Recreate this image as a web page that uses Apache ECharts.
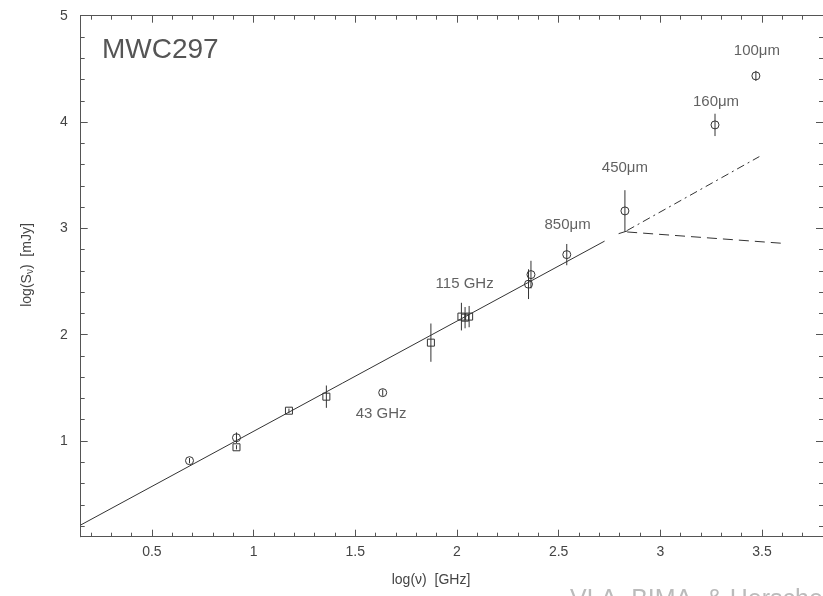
<!DOCTYPE html>
<html>
<head>
<meta charset="utf-8">
<script src="https://cdn.jsdelivr.net/npm/echarts@6/dist/echarts.min.js"></script>
<style>html,body{margin:0;padding:0;background:#fff;}#c{width:823px;height:596px;}</style>
</head>
<body>
<div id="c"></div>
<script>
// ---- axis ranges and ticks ----
const xRange = [0.15, 3.8];
const yRange = [0.1, 5];
const xMajor = [0.5, 1, 1.5, 2, 2.5, 3, 3.5];
const xMinor = [0.2, 0.3, 0.4, 0.6, 0.7, 0.8, 0.9, 1.1, 1.2, 1.3, 1.4, 1.6, 1.7, 1.8, 1.9, 2.1, 2.2, 2.3, 2.4, 2.6, 2.7, 2.8, 2.9, 3.1, 3.2, 3.3, 3.4, 3.6, 3.7];
const yMajor = [1, 2, 3, 4, 5];
const yMinor = [0.2, 0.4, 0.6, 0.8, 1.2, 1.4, 1.6, 1.8, 2.2, 2.4, 2.6, 2.8, 3.2, 3.4, 3.6, 3.8, 4.2, 4.4, 4.6, 4.8];

// ---- circle points (log nu, log S, error) ----
const circX   = [0.685, 0.916, 1.635, 2.352, 2.364, 2.54, 2.826, 3.269, 3.47];
const circY   = [0.815, 1.031, 1.455, 2.475, 2.565, 2.753, 3.164, 3.973, 4.434];
const circErr = [0.025, 0.05, 0.03, 0.14, 0.13, 0.1, 0.195, 0.105, 0.047];

// ---- square points ----
const sqX   = [0.916, 1.174, 1.358, 1.872, 2.022, 2.04, 2.06];
const sqY   = [0.941, 1.285, 1.417, 1.925, 2.17, 2.16, 2.17];
const sqErr = [0.02, 0.02, 0.105, 0.18, 0.13, 0.1, 0.1];

// ---- model lines ----
const fitLine = [[0.15, 0.21], [2.726, 2.88]];
const fitTail = [[2.795, 2.95], [2.837, 2.975]];
const dashLine = [[2.837, 2.966], [3.596, 2.86]];
const dashDotLine = [[2.837, 2.98], [3.487, 3.675]];

// ---- annotations ----
const noteText = ['100\u03bcm', '160\u03bcm', '450\u03bcm', '850\u03bcm', '115 GHz', '43 GHz'];
const noteX = [3.475, 3.274, 2.826, 2.544, 2.038, 1.627];
const noteY = [4.67, 4.19, 3.57, 3.03, 2.48, 1.26];

const FONT = '"Liberation Sans", "DejaVu Sans", sans-serif';
const AX = '#555';
const INK = '#333';

function zip3(a, b, c) { return a.map((v, i) => [v, b[i], c[i]]); }

function errRender(kind) {
  return function (params, api) {
    const x = api.value(0), y = api.value(1), e = api.value(2);
    const p = api.coord([x, y]);
    const t = api.coord([x, y + e]);
    const b = api.coord([x, y - e]);
    const st = { stroke: INK, lineWidth: 1, fill: null };
    const kids = [{ type: 'line', shape: { x1: t[0], y1: t[1], x2: b[0], y2: b[1] }, style: st }];
    if (kind === 'circle') {
      kids.push({ type: 'circle', shape: { cx: p[0], cy: p[1], r: 4 }, style: st });
    } else {
      kids.push({ type: 'rect', shape: { x: p[0] - 3.5, y: p[1] - 3.5, width: 7, height: 7 }, style: st });
    }
    return { type: 'group', children: kids };
  };
}

function xAx(pos, vals, len, label) {
  return {
    type: 'value', position: pos, min: xRange[0], max: xRange[1],
    axisLine: { show: true, onZero: false, lineStyle: { color: AX, width: 1 } },
    splitLine: { show: false },
    axisTick: { show: true, inside: true, length: len, customValues: vals, lineStyle: { color: AX } },
    axisLabel: label ? { show: true, customValues: vals, margin: 8, color: '#444', fontSize: 14, fontFamily: FONT } : { show: false }
  };
}
function yAx(pos, vals, len, label) {
  return {
    type: 'value', position: pos, min: yRange[0], max: yRange[1],
    axisLine: { show: true, onZero: false, lineStyle: { color: AX, width: 1 } },
    splitLine: { show: false },
    axisTick: { show: true, inside: true, length: len, customValues: vals, lineStyle: { color: AX } },
    axisLabel: label ? { show: true, customValues: vals, margin: 13, color: '#444', fontSize: 14, fontFamily: FONT } : { show: false }
  };
}

const chart = echarts.init(document.getElementById('c'), null, { renderer: 'canvas' });
chart.setOption({
  animation: false,
  backgroundColor: '#fff',
  grid: { left: 80.7, top: 15.7, width: 746, height: 521, containLabel: false },
  xAxis: [
    xAx('bottom', xMajor, 7, true),
    xAx('bottom', xMinor, 4, false),
    xAx('top', xMajor, 7, false),
    xAx('top', xMinor, 4, false)
  ],
  yAxis: [
    yAx('left', yMajor, 7, true),
    yAx('left', yMinor, 4, false),
    yAx('right', yMajor, 7, false),
    yAx('right', yMinor, 4, false)
  ],
  series: [
    { type: 'line', data: fitLine, symbol: 'none', lineStyle: { color: INK, width: 1 }, silent: true },
    { type: 'line', data: fitTail, symbol: 'none', lineStyle: { color: INK, width: 1 }, silent: true },
    { type: 'line', data: dashLine, symbol: 'none', lineStyle: { color: INK, width: 1, type: [10, 6] }, silent: true },
    { type: 'line', data: dashDotLine, symbol: 'none', lineStyle: { color: INK, width: 1, type: [8, 4, 2, 4] }, silent: true },
    { type: 'custom', renderItem: errRender('circle'), data: zip3(circX, circY, circErr), encode: { x: 0, y: 1 }, silent: true },
    { type: 'custom', renderItem: errRender('square'), data: zip3(sqX, sqY, sqErr), encode: { x: 0, y: 1 }, silent: true },
    {
      type: 'scatter', symbolSize: 0, silent: true,
      data: noteX.map((x, i) => ({ value: [x, noteY[i]], name: noteText[i] })),
      label: { show: true, position: 'inside', formatter: p => p.name, color: '#3a3a3a', fontSize: 15, fontFamily: FONT }
    }
  ],
  graphic: [
    { type: 'text', left: 102, top: 36, style: { text: 'MWC297', fill: '#555', font: '28px ' + FONT } },
    { type: 'text', x: 431, y: 580, style: { text: 'log(\u03bd)  [GHz]', fill: '#444', font: '14px ' + FONT, align: 'center', verticalAlign: 'middle' } },
    {
      type: 'text', x: 27, y: 265, rotation: Math.PI / 2,
      style: {
        text: 'log(S{s|\u03bd})  [mJy]', fill: '#444', font: '14px ' + FONT, align: 'center', verticalAlign: 'middle',
        rich: { s: { fontSize: 10, fill: '#444', fontFamily: FONT, verticalAlign: 'bottom', padding: [6, 0, 0, 0] } }
      }
    },
    { type: 'text', x: 570, y: 588, style: { text: 'VLA, BIMA, & Herschel', fill: '#bbb', font: '25px ' + FONT } }
  ]
});
</script>
</body>
</html>
